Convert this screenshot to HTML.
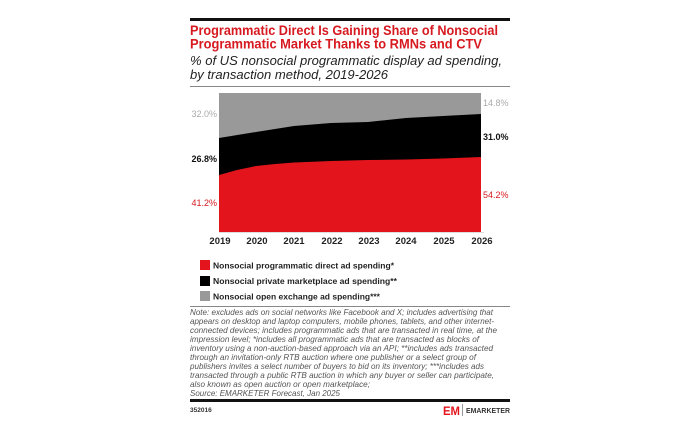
<!DOCTYPE html>
<html><head><meta charset="utf-8"><style>
body{margin:0;background:#fff;width:700px;height:441px;overflow:hidden}
svg{position:absolute;left:0;top:0}
</style></head><body>
<svg width="700" height="441" font-family="Liberation Sans,Arial,sans-serif">
<rect x="190" y="18" width="320" height="3" fill="#111"/>
<g fill="#d71920" font-weight="bold" font-size="13.6">
<text x="190" y="35" textLength="308" lengthAdjust="spacingAndGlyphs">Programmatic Direct Is Gaining Share of Nonsocial</text>
<text x="190" y="48.5" textLength="292" lengthAdjust="spacingAndGlyphs">Programmatic Market Thanks to RMNs and CTV</text>
</g>
<g fill="#222" font-style="italic" font-size="13">
<text x="190" y="65" textLength="312" lengthAdjust="spacingAndGlyphs">% of US nonsocial programmatic display ad spending,</text>
<text x="190" y="79" textLength="198" lengthAdjust="spacingAndGlyphs">by transaction method, 2019-2026</text>
</g>
<rect x="190" y="86" width="320" height="1" fill="#888"/>
<rect x="219" y="93" width="262" height="139" fill="#999"/>
<path d="M219,138 L256,132 L294,126 L331,123 L368,122 L406,118 L443,116 L481,114 L481,232 L219,232Z" fill="#000"/>
<path d="M219,175 L237,170 L256,166 L275,164 L294,162.5 L331,161 L368,160 L406,159.5 L443,158.5 L481,157 L481,232 L219,232Z" fill="#e3141b"/>
<line x1="219" y1="232.5" x2="484" y2="232.5" stroke="#ddd"/>
<g font-size="9">
<text x="217" y="117" text-anchor="end" fill="#aaa">32.0%</text>
<text x="217" y="162" text-anchor="end" fill="#111" font-weight="bold">26.8%</text>
<text x="217" y="206" text-anchor="end" fill="#d71920">41.2%</text>
<text x="483" y="106" fill="#aaa">14.8%</text>
<text x="483" y="140" fill="#111" font-weight="bold">31.0%</text>
<text x="483" y="198" fill="#d71920">54.2%</text>
</g>
<g font-size="9.5" font-weight="bold" fill="#222" text-anchor="middle">
<text x="220" y="244">2019</text><text x="257" y="244">2020</text><text x="294" y="244">2021</text><text x="332" y="244">2022</text><text x="369" y="244">2023</text><text x="406" y="244">2024</text><text x="444" y="244">2025</text><text x="482" y="244">2026</text>
</g>
<rect x="200" y="260" width="10" height="10" fill="#e3141b"/>
<rect x="200" y="276" width="10" height="10" fill="#000"/>
<rect x="200" y="291" width="10" height="10" fill="#999"/>
<g font-size="8.7" font-weight="bold" fill="#222">
<text x="213" y="268.5" textLength="181" lengthAdjust="spacingAndGlyphs">Nonsocial programmatic direct ad spending*</text>
<text x="213" y="284" textLength="184" lengthAdjust="spacingAndGlyphs">Nonsocial private marketplace ad spending**</text>
<text x="213" y="299.5" textLength="167" lengthAdjust="spacingAndGlyphs">Nonsocial open exchange ad spending***</text>
</g>
<rect x="190" y="306" width="320" height="1" fill="#888"/>
<g font-size="8.4" font-style="italic" fill="#555">
<text x="190" y="315" textLength="303" lengthAdjust="spacingAndGlyphs">Note: excludes ads on social networks like Facebook and X; includes advertising that</text>
<text x="190" y="324" textLength="304" lengthAdjust="spacingAndGlyphs">appears on desktop and laptop computers, mobile phones, tablets, and other internet-</text>
<text x="190" y="333" textLength="307" lengthAdjust="spacingAndGlyphs">connected devices; includes programmatic ads that are transacted in real time, at the</text>
<text x="190" y="342" textLength="289" lengthAdjust="spacingAndGlyphs">impression level; *includes all programmatic ads that are transacted as blocks of</text>
<text x="190" y="351" textLength="303" lengthAdjust="spacingAndGlyphs">inventory using a non-auction-based approach via an API; **includes ads transacted</text>
<text x="190" y="360" textLength="286" lengthAdjust="spacingAndGlyphs">through an invitation-only RTB auction where one publisher or a select group of</text>
<text x="190" y="369" textLength="294" lengthAdjust="spacingAndGlyphs">publishers invites a select number of buyers to bid on its inventory; ***includes ads</text>
<text x="190" y="378" textLength="304" lengthAdjust="spacingAndGlyphs">transacted through a public RTB auction in which any buyer or seller can participate,</text>
<text x="190" y="387" textLength="180" lengthAdjust="spacingAndGlyphs">also known as open auction or open marketplace;</text>
<text x="190" y="396" textLength="150" lengthAdjust="spacingAndGlyphs">Source: EMARKETER Forecast, Jan 2025</text>
</g>
<rect x="190" y="399" width="320" height="3" fill="#111"/>
<text x="190" y="412" font-size="6.5" font-weight="bold" fill="#333">352016</text>
<text x="443" y="415" font-size="12" font-weight="bold" fill="#e3141b" textLength="17" lengthAdjust="spacingAndGlyphs">EM</text>
<rect x="462" y="404" width="1" height="12" fill="#999"/>
<text x="466" y="413" font-size="7.5" font-weight="bold" fill="#333" textLength="44" lengthAdjust="spacingAndGlyphs">EMARKETER</text>
</svg>
</body></html>
